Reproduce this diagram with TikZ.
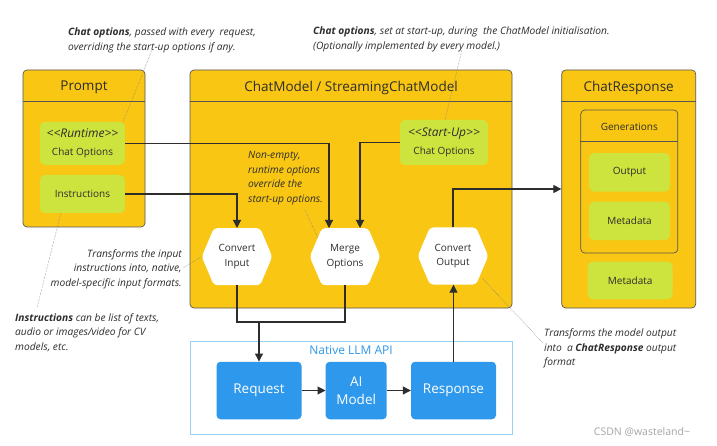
\documentclass[tikz,border=0pt]{standalone}
\usepackage{fontspec}
\setmainfont{Open Sans}
\usetikzlibrary{shapes.symbols,arrows.meta,calc}
\definecolor{ybox}{RGB}{249,198,19}
\definecolor{gbox}{RGB}{206,228,62}
\definecolor{bbox}{RGB}{45,152,236}
\definecolor{lblue}{RGB}{150,210,240}
\definecolor{txt}{RGB}{45,45,45}
\definecolor{edge}{RGB}{85,85,85}
\newcommand\stereo[1]{{\itshape\fontsize{12}{18}\selectfont <{}<#1>{}>}}
\begin{document}
\begin{tikzpicture}[x=1pt,y=-1pt,
  container/.style={draw=edge,line width=0.7pt,fill=ybox,rounded corners=4pt,inner sep=0pt},
  header/.style={font=\fontsize{13.5}{15}\selectfont,text=txt},
  greenbox/.style={fill=gbox,rounded corners=5pt,inner sep=0pt,text=txt,font=\fontsize{10}{18}\selectfont,align=center},
  bluebox/.style={fill=bbox,rounded corners=4pt,inner sep=0pt,text=white,font=\fontsize{13.5}{18}\selectfont,align=center},
  hexa/.style={shape=signal,signal to=west and east,signal pointer angle=134,fill=white,rounded corners=3.5pt,inner sep=0pt,minimum width=70.5pt,minimum height=57pt,text=txt,font=\fontsize{10}{14.3}\selectfont,align=center},
  conn/.style={draw=txt,line width=1.1pt},
  arr/.style={conn,-{Triangle[length=8pt,width=8pt]}},
  note/.style={inner sep=0pt,text=txt,font=\itshape\fontsize{10.2}{14.7}\selectfont},
  leader/.style={draw=gray,line width=0.5pt,densely dotted}
]
\useasboundingbox[fill=white] (0,0) rectangle (717,446);

% containers
\node[container,minimum width=122pt,minimum height=157pt] (prompt) at (84,148.5) {};
\node[header] (prompth) at (84,87.5) {Prompt};
\draw[edge,line width=0.7pt] ($(prompt.north west)+(0,31.7)$) -- ($(prompt.north east)+(0,31.7)$);

\node[container,minimum width=322pt,minimum height=238pt] (cm) at (351,189) {};
\node[header] (cmh) at (351,88) {ChatModel / StreamingChatModel};
\draw[edge,line width=0.7pt] ($(cm.north west)+(0,31.7)$) -- ($(cm.north east)+(0,31.7)$);

\node[container,minimum width=134pt,minimum height=238pt] (cr) at (628.7,189) {};
\node[header] (crh) at (628.7,87.5) {ChatResponse};
\draw[edge,line width=0.7pt] ($(cr.north west)+(0,31.7)$) -- ($(cr.north east)+(0,31.7)$);

\node[container,minimum width=97pt,minimum height=143pt] (gen) at (629.3,181.5) {};
\node[text=txt,font=\fontsize{10}{12}\selectfont] (genh) at (629.3,126.5) {Generations};
\draw[edge,line width=0.7pt] ($(gen.north west)+(0,31.7)$) -- ($(gen.north east)+(0,31.7)$);

% green boxes
\node[greenbox,minimum width=85pt,minimum height=43pt] (rco) at (82.5,143.3) {\stereo{Runtime}\\Chat Options};
\node[greenbox,minimum width=85pt,minimum height=38pt] (ins) at (82.5,194) {Instructions};
\node[greenbox,minimum width=88pt,minimum height=45pt] (sco) at (444,142.5) {\stereo{Start-Up}\\Chat Options};
\node[greenbox,minimum width=81pt,minimum height=38.5pt] (out) at (629.5,172.3) {Output};
\node[greenbox,minimum width=81pt,minimum height=38.5pt] (md1) at (629.5,220.8) {Metadata};
\node[greenbox,minimum width=85pt,minimum height=37.5pt] (md2) at (630.2,280.5) {Metadata};

% hexagons
\node[hexa] (ci) at (237,256.7) {Convert\\Input};
\node[hexa] (mo) at (345,256.7) {Merge\\Options};
\node[hexa] (co) at (453,256) {Convert\\Output};

% native API
\node[draw=lblue,line width=0.8pt,minimum width=322pt,minimum height=93pt,inner sep=0pt] (api) at (351,388.3) {};
\node[text=bbox,font=\fontsize{12}{14}\selectfont] (apih) at (351,350.5) {Native LLM API};
\node[bluebox,minimum width=85pt,minimum height=57.5pt] (req) at (259,390.5) {Request};
\node[bluebox,minimum width=61pt,minimum height=57.5pt] (aim) at (356.2,390.5) {AI\\Model};
\node[bluebox,minimum width=85pt,minimum height=57.5pt] (resp) at (453.5,390.5) {Response};

% connectors
\draw[arr] (rco.east) -| ([xshift=-16pt]mo.north);
\draw[arr] (ins.east) -| (ci.north);
\draw[arr] (sco.west) -| ([xshift=15pt]mo.north);
\draw[arr] (co.north) |- (cr.west);
\coordinate (j) at (259,322);
\draw[conn] (ci.south) |- (j) -| (mo.south);
\draw[arr] (j) -- (req.north);
\draw[arr] (req.east) -- (aim.west);
\draw[arr] (aim.east) -- (resp.west);
\draw[arr] (resp.north) -- (resp.north |- co.south);

% notes
\node[note,anchor=north west,align=left] (n1) at (68,28) {\textbf{Chat options}, passed with every\ \ request,\\overriding the start-up options if any.};
\node[note,anchor=north west,align=left] (n2) at (313,26.5) {\textbf{Chat options}, set at start-up, during\ \ the ChatModel initialisation.\\(Optionally implemented by every model.)};
\node[note,anchor=north west,align=left] (n3) at (248,151) {Non-empty,\\runtime options\\override the\\start-up options.};
\node[note,anchor=north east,align=right] (n4) at (182,249) {Transforms the input\\instructions into, native,\\model-specific input formats.};
\node[note,anchor=north west,align=left] (n5) at (15,313) {\textbf{Instructions} can be list of texts,\\audio or images/video for CV\\models, etc.};
\node[note,anchor=north west,align=left] (n6) at (544,328.5) {Transforms the model output\\into\ \ a \textbf{ChatResponse} output\\format};
\node[text=gray!70,font=\fontsize{10.5}{12}\selectfont] (wm) at (642,432) {CSDN @wasteland\textasciitilde};

% leaders
\draw[leader] (152,50) -- ($(rco.north east)+(-2,0)$);
\draw[leader] (462,50) -- ($(sco.north)+(1,0)$);
\draw[leader] (305,210) -- (318,238);
\draw[leader] (183,268) -- (ci.west);
\draw[leader] ($(ins.south west)+(21,0)$) -- (37,308);
\draw[leader] (482,278) -- (543,343);
\end{tikzpicture}
\end{document}
